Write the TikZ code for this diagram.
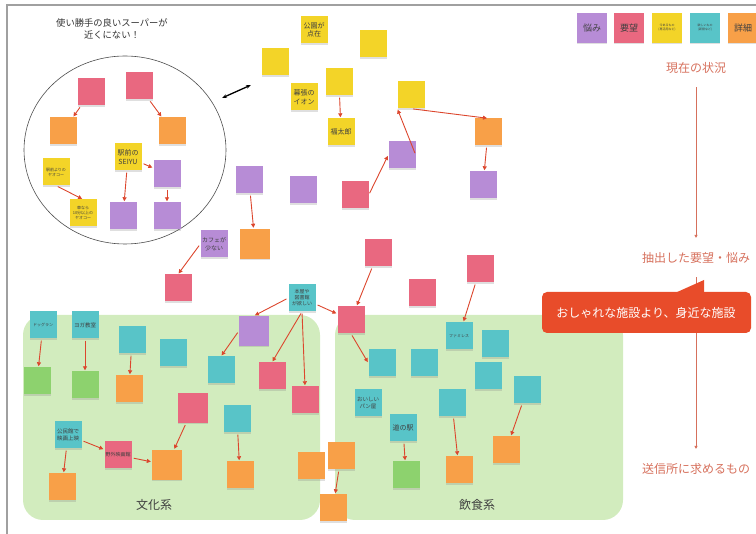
\documentclass[tikz,border=0pt]{standalone}
\usepackage{fontspec}
\setmainfont{Noto Sans CJK JP}
\usetikzlibrary{arrows.meta,shadows}
\definecolor{notePurple}{HTML}{B78CD6}
\definecolor{notePink}{HTML}{E96880}
\definecolor{noteYellow}{HTML}{F3D428}
\definecolor{noteTeal}{HTML}{58C4C8}
\definecolor{noteOrange}{HTML}{F8A048}
\definecolor{noteGreen}{HTML}{8DD26E}
\definecolor{regionGreen}{HTML}{D2ECBE}
\definecolor{arrowRed}{HTML}{DC462D}
\definecolor{flowSalmon}{HTML}{D6705C}
\definecolor{calloutRed}{HTML}{E84C2A}
\definecolor{frameGray}{HTML}{A0A0A0}
\begin{document}
\begin{tikzpicture}[x=1pt,y=-1pt,
    note/.style={minimum width=27pt, minimum height=27pt, inner sep=1pt, align=center,
      text=black!75, font=\fontsize{5}{6}\selectfont,
      drop shadow={shadow xshift=0.4pt, shadow yshift=-1.2pt, opacity=0.25}},
    nPurple/.style={note, fill=notePurple},
    nPink/.style={note, fill=notePink},
    nYellow/.style={note, fill=noteYellow},
    nTeal/.style={note, fill=noteTeal},
    nOrange/.style={note, fill=noteOrange},
    nGreen/.style={note, fill=noteGreen},
    wide/.style={minimum width=30pt, minimum height=30pt},
    big/.style={font=\fontsize{7}{8.5}\selectfont},
    small/.style={font=\fontsize{4}{5}\selectfont},
    link/.style={draw=arrowRed, line width=0.9pt, -{Triangle[length=4pt,width=4pt]},
      shorten <=2pt, shorten >=1pt},
    flow/.style={draw=flowSalmon, line width=0.8pt, -{Triangle[length=3pt,width=3pt]},
      shorten <=10pt, shorten >=11pt},
    flowtext/.style={text=flowSalmon, font=\fontsize{12}{14}\selectfont}]
  \useasboundingbox (0,0) rectangle (756,534);
  \draw[frameGray, line width=1.5pt] (7,534) -- (7,5) -- (756,5);

  % groups
  \fill[regionGreen, rounded corners=20pt] (23,315) rectangle (320,520);
  \fill[regionGreen, rounded corners=20pt] (335,315) rectangle (623,520);
  \node[font=\fontsize{12}{14}\selectfont, text=black!75] (culture) at (154,505) {文化系};
  \node[font=\fontsize{12}{14}\selectfont, text=black!75] (food) at (477,505) {飲食系};

  % supermarket circle
  \node[align=center, font=\fontsize{9.3}{12}\selectfont, text=black!80] (title) at (112,29)
    {使い勝手の良いスーパーが\\近くにない！};
  \draw[black!70, line width=0.6pt] (125,150) ellipse [x radius=101pt, y radius=94pt];
  \node[nPink] (pA) at (91,92) {};
  \node[nPink] (pB) at (139,86) {};
  \node[nOrange] (oA) at (63,131) {};
  \node[nOrange] (oB) at (172,131) {};
  \node[nYellow, big] (ySeiyu) at (128,157) {駅前の\\SEIYU};
  \node[nYellow, small] (yYaoko) at (56,172) {駅前よりの\\ヤオコー};
  \node[nYellow, small] (yCar) at (83,213) {車なら\\10分以上の\\ヤオコー};
  \node[nPurple] (uA) at (167,174) {};
  \node[nPurple] (uB) at (123,216) {};
  \node[nPurple] (uC) at (167,216) {};
  \draw[link] (pA) -- (oA);
  \draw[link] (pB) -- (oB);
  \draw[link] (ySeiyu) -- (uA);
  \draw[link] (ySeiyu) -- (uB);
  \draw[link] (uA) -- (uC);
  \draw[link] (yYaoko.south) -- (yCar.north);

  \coordinate (dA) at (222,98);
  \coordinate (dB) at (251,85);
  \draw[{Stealth[length=5pt]}-{Stealth[length=5pt]}, line width=1.3pt] (dA) -- (dB);

  % current situation
  \node[nYellow, big] (yPark) at (314,30) {公園が\\点在};
  \node[nYellow] (yNear) at (373,44) {};
  \node[nYellow] (yLeft) at (275,62) {};
  \node[nYellow, big] (yAeon) at (304,97) {幕張の\\イオン};
  \node[nYellow] (yMid) at (339,82) {};
  \node[nYellow, big] (yFuku) at (341,132) {福太郎};
  \node[nYellow] (yGourmet) at (411,95) {};
  \node[nOrange] (oRight) at (488,132) {};
  \node[nPurple] (uRight) at (483,185) {};
  \node[nPurple] (uCen) at (402,155) {};
  \node[nPink] (pUp) at (355,195) {};
  \node[nPurple] (uMid) at (303,190) {};
  \node[nPurple] (uLeft) at (249,180) {};
  \node[nOrange, wide] (oCycle) at (255,244) {};
  \node[nPurple, font=\fontsize{6}{7.5}\selectfont] (uCafe) at (214,244) {カフェが\\少ない};
  \node[nPink] (pCafe) at (178,288) {};
  \node[nPink] (pShop) at (378,253) {};
  \node[nPink] (pCenter) at (351,320) {};
  \node[nTeal] (tBook) at (302,298) {本屋や\\図書館\\が欲しい};
  \node[nPurple, wide] (uLib) at (254,331) {};
  \node[nPink] (pLibA) at (272,376) {};
  \node[nPink] (pLibB) at (305,400) {};
  \node[nTeal] (tLib) at (221,370) {};
  \draw[link] (yMid) -- (yFuku);
  \draw[link] (uCen.east) -- (yGourmet.south west);
  \draw[link] (yGourmet.south) -- (oRight.north);
  \draw[link] (oRight) -- (uRight);
  \draw[link] (pUp.east) -- (uCen.west);
  \draw[link] (uLeft) -- (oCycle);
  \draw[link] (uCafe.west) -- (pCafe.north);
  \draw[link] (pShop) -- (pCenter);
  \draw[link] (tBook) -- (pCenter);
  \draw[link] (tBook.west) -- (uLib.north);
  \draw[link] (tBook.south) -- (pLibA.north);
  \draw[link] (tBook.south) -- (pLibB.north);
  \draw[link] (uLib.west) -- (tLib.north);

  % culture
  \node[nTeal, small] (tDog) at (43,325) {ドッグラン};
  \node[nTeal, font=\fontsize{5.5}{6.5}\selectfont] (tYoga) at (85,325) {ヨガ教室};
  \node[nGreen] (gDog) at (37,381) {};
  \node[nGreen] (gYoga) at (85,385) {};
  \node[nTeal] (tCa) at (132,340) {};
  \node[nOrange] (oCa) at (129,389) {};
  \node[nTeal] (tCb) at (173,353) {};
  \node[nPink, wide] (pSpace) at (193,408) {};
  \node[nTeal, font=\fontsize{5.5}{6.5}\selectfont] (tCinema) at (68,435) {公民館で\\映画上映};
  \node[nPink] (pCinema) at (118,455) {野外映画館};
  \node[nOrange, wide] (oDrive) at (167,465) {};
  \node[nOrange] (oCinema) at (62,487) {};
  \node[nTeal] (tCc) at (237,419) {};
  \node[nOrange] (oCc) at (240,475) {};
  \node[nOrange] (oGa) at (311,466) {};
  \node[nOrange] (oGb) at (341,456) {};
  \node[nOrange] (oGc) at (333,508) {};
  \draw[link] (tDog) -- (gDog);
  \draw[link] (tYoga) -- (gYoga);
  \draw[link] (tCa) -- (oCa);
  \draw[link] (pSpace) -- (oDrive);
  \draw[link] (tCinema) -- (pCinema);
  \draw[link] (pCinema) -- (oDrive);
  \draw[link] (tCinema) -- (oCinema);
  \draw[link] (tCc) -- (oCc);
  \draw[link] (oGb) -- (oGc);

  % food
  \node[nPink] (pLocal) at (422,293) {};
  \node[nPink] (pRest) at (480,269) {};
  \node[nTeal, small] (tFami) at (459,336) {ファミレス};
  \node[nTeal] (tRa) at (495,344) {};
  \node[nTeal] (tRb) at (488,376) {};
  \node[nTeal] (tRc) at (527,390) {};
  \node[nOrange] (oRc) at (506,450) {};
  \node[nTeal] (tCafe) at (382,363) {};
  \node[nTeal] (tRd) at (424,363) {};
  \node[nTeal, font=\fontsize{5.5}{6.5}\selectfont] (tBread) at (368,403) {おいしい\\パン屋};
  \node[nTeal, big] (tStation) at (403,428) {道の駅};
  \node[nGreen] (gStation) at (406,475) {};
  \node[nTeal] (tRe) at (452,403) {};
  \node[nOrange] (oRe) at (459,470) {};
  \draw[link] (pRest) -- (tFami);
  \draw[link] (tRc) -- (oRc);
  \draw[link] (pCenter.south) -- (tCafe.west);
  \draw[link] (tStation) -- (gStation);
  \draw[link] (tRe) -- (oRe);

  % legend
  \node[nPurple, wide, font=\fontsize{9}{10}\selectfont] (lPurple) at (592,28) {悩み};
  \node[nPink, wide, font=\fontsize{9}{10}\selectfont] (lPink) at (629,28) {要望};
  \node[nYellow, wide, font=\fontsize{3}{4}\selectfont] (lYellow) at (667,28) {今あるもの\\(再活用など)};
  \node[nTeal, wide, font=\fontsize{3}{4}\selectfont] (lTeal) at (705,28) {欲しいもの\\(新設など)};
  \node[nOrange, wide, font=\fontsize{9}{10}\selectfont] (lOrange) at (743,28) {詳細};

  % flow
  \node[flowtext] (now) at (696,68) {現在の状況};
  \node[flowtext] (extract) at (696,258) {抽出した要望・悩み};
  \node[flowtext] (need) at (696,469) {送信所に求めるもの};
  \draw[flow] (now) -- (extract);
  \draw[flow] (extract) -- (need);
  \fill[calloutRed, rounded corners=5pt] (542,292) rectangle (751,333);
  \fill[calloutRed] (675,293) -- (704,280) -- (704,293) -- cycle;
  \node[text=white, font=\fontsize{12}{14}\selectfont] (callout) at (646,313) {おしゃれな施設より、身近な施設};
\end{tikzpicture}
\end{document}
